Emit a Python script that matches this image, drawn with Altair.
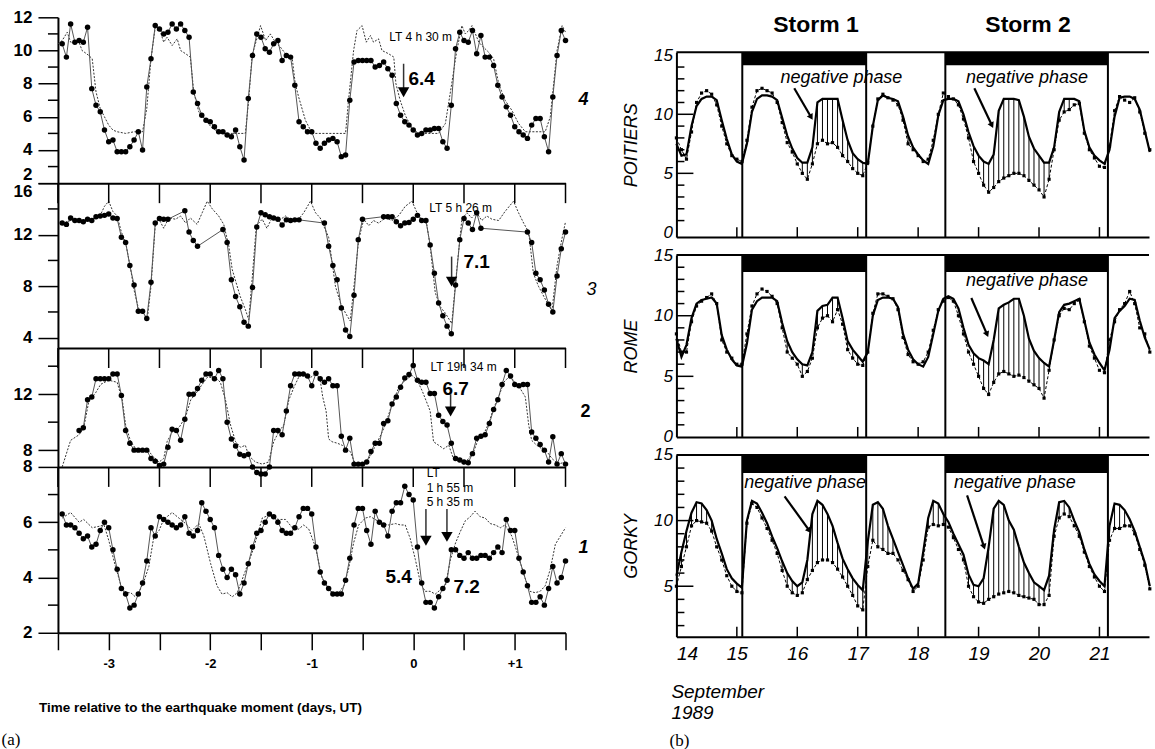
import altair as alt
import pandas as pd

SANS = "'Liberation Sans', Arial, sans-serif"
SERIF = "'Liberation Serif', 'DejaVu Serif', serif"

# ====================== (a) data : hours from start, values ======================
P4_OBS_H = list(range(1, 121))
P4_OBS_V = [10.4, 9.6, 11.6, 10.5, 10.6, 10.5, 11.4, 7.7, 6.7, 6.3,
            5.2, 4.5, 4.6, 3.9, 3.9, 3.9, 4.2, 4.6, 5.1, 4.0,
            7.8, 9.5, 11.5, 11.3, 11.0, 11.1, 11.6, 11.3, 11.6, 11.2,
            10.8, 7.5, 6.8, 6.1, 5.8, 5.7, 5.4, 5.1, 5.1, 4.9,
            4.8, 5.2, 4.2, 3.4, 7.1, 9.7, 11.0, 10.8, 10.1, 9.9,
            10.4, 10.6, 9.4, 9.7, 9.6, 7.9, 5.7, 5.4, 5.1, 5.1,
            4.4, 4.1, 4.4, 4.6, 4.7, 4.5, 3.6, 3.7, 7.0, 9.3,
            9.4, 9.4, 9.4, 9.4, 9.0, 9.1, 9.3, 8.9, 8.5, 6.8,
            6.1, 5.7, 5.5, 5.2, 4.9, 5.0, 5.2, 5.2, 5.3, 5.3,
            4.5, 4.1, 6.7, 10.1, 11.1, 10.6, 10.5, 11.2, 9.8, 10.9,
            9.6, 9.6, 9.1, 7.9, 7.2, 6.6, 6.1, 5.4, 5.1, 4.9,
            4.7, 5.5, 5.9, 5.9, 4.8, 3.9, 7.2, 9.7, 11.2, 10.6]
P4_REF_H = [0, 1, 2.2, 3, 5, 5.7, 7.3, 8.1, 9, 10, 11, 12, 13, 14, 16, 18, 20, 21, 22, 23,
            24, 25, 25.8, 27, 28.2, 29, 30.2, 31.3, 32.1, 33.3, 34.9, 36.5, 38, 39.6, 44.3,
            45.1, 45.9, 47.9, 49.1, 50.2, 51.4, 52.6, 53.8, 55.4, 56.1, 56.9, 58.5, 60.1, 68,
            68.7, 69.9, 70.7, 71.9, 72.9, 73.9, 74.6, 75.8, 76.6, 78.2, 79.4, 79.9, 80.9, 82.1,
            83.7, 85.3, 90, 91.6, 93.1, 94.3, 95.5, 96.3, 97.1, 97.9, 98.7, 99.5, 100.6, 101.8,
            103, 104.2, 105.7, 107.3, 108.9, 110.5, 115.2, 116.4, 117.2, 118, 119.2, 120]
P4_REF_V = [10.4, 10.6, 11.1, 10.5, 10.5, 10.0, 9.7, 9.5, 7.5, 6.5, 6.0, 5.5, 5.2, 5.1, 5.0, 5.1, 5.1, 6.5, 9.5, 11.4,
            11.3, 10.5, 10.8, 10.3, 10.7, 10.0, 9.8, 9.6, 7.5, 6.3, 5.8, 5.3, 5.1, 5.0, 5.0,
            7.0, 9.7, 11.5, 10.6, 11.0, 10.5, 10.2, 9.8, 9.5, 8.0, 7.2, 5.8, 5.0, 5.0,
            7.0, 10.0, 11.2, 11.5, 10.5, 10.9, 10.5, 10.7, 10.0, 9.8, 9.6, 8.0, 7.0, 6.1,
            5.3, 5.0, 5.0, 5.6, 8.0, 10.0, 11.5, 11.0, 11.2, 11.5, 11.0, 10.5, 10.2, 9.9,
            9.5, 8.0, 7.0, 6.4, 5.6, 5.1, 5.1, 6.0, 8.0, 10.0, 11.5, 11.1]

P3_OBS_H = (list(range(1, 27)) + [30, 31, 32, 33] + list(range(39, 58)) + list(range(63, 73))
            + list(range(77, 101)) + list(range(111, 121)))
P3_OBS_V = [12.9, 12.8, 13.3, 13.1, 13.1, 13.0, 13.2, 13.1, 13.4, 13.45, 13.5, 13.6, 13.3, 13.25,
            11.8, 11.4, 9.6, 8.1, 6.05, 6.05, 5.5, 8.3, 12.9, 13.25, 13.2, 13.2,
            13.85, 12.2, 11.55, 11.1,
            12.4, 11.4, 8.5, 7.2, 6.4, 5.2, 4.9, 7.9, 12.6, 13.7, 13.55, 13.4, 13.3, 13.2, 12.75,
            13.15, 13.1, 13.15, 13.15,
            12.9, 11.1, 9.6, 8.5, 6.3, 4.6, 4.1, 7.3, 11.6, 13.2,
            13.4, 13.4, 13.4, 13.0, 12.7, 12.9, 12.95, 13.2, 13.5, 13.1, 13.1, 11.2, 9.0, 6.7,
            5.7, 4.9, 4.3, 8.1, 11.6, 13.25, 12.9, 12.4, 13.7, 12.5,
            12.2, 11.4, 9.0, 8.5, 7.7, 6.6, 6.0, 8.8, 10.9, 12.2]
P3_REF_H = [1, 3, 6, 8, 10, 11, 12, 13, 14, 15, 16, 17.2, 18, 19, 19.9, 21.1,
            22, 23, 23.9, 25, 26.2, 27.8, 29, 30.2, 31.3, 32.9,
            34.1, 35.3, 36.5, 38, 39.2, 40.4, 41.2, 42.1, 43.1, 44.3,
            45.1, 45.9, 46.9, 48.3, 49.4, 50.6, 52.2, 53.8, 55.4, 56.9,
            58.1, 59.7, 60.9, 62, 63.2, 64, 65.6, 66.8, 68, 69.1,
            69.9, 71.1, 72.3, 73.5, 74.6, 75.8, 77.4, 79, 80.6, 82.1,
            83.7, 84.9, 86.1, 87.2, 88, 89.2, 90.4, 91.6, 93.1, 94.3,
            95.5, 96.7, 97.8, 99, 100.2, 101.4, 102.6, 104.2, 105.7, 107.7,
            108.9, 110.1, 111.3, 112.4, 113.6, 115.2, 116.8, 118, 119.1, 120]
P3_REF_V = [12.9, 13.1, 13.0, 13.2, 13.5, 14.2, 14.6, 13.8, 13.45, 12.2, 11.4, 9.3, 7.7, 6.3, 6.05, 5.4,
            8.0, 12.7, 13.2, 12.5, 13.3, 13.2, 13.45, 12.9, 13.3, 12.8,
            13.7, 14.6, 14.0, 13.45, 12.8, 11.1, 9.3, 8.3, 7.2, 6.2,
            5.4, 8.5, 12.7, 13.2, 12.5, 13.3, 13.1, 13.45, 13.1, 13.2,
            13.7, 14.6, 13.7, 13.3, 12.4, 11.8, 8.0, 6.7, 5.9, 5.3,
            7.7, 11.6, 13.2, 12.7, 13.1, 12.9, 13.3, 13.1, 13.5, 14.2,
            14.6, 13.7, 13.1, 12.8, 11.1, 7.5, 6.4, 5.9, 5.1, 9.3,
            13.2, 13.7, 13.3, 13.7, 13.1, 13.45, 13.2, 13.1, 13.8, 14.6,
            13.7, 12.9, 12.2, 9.0, 8.0, 7.0, 6.1, 9.6, 11.6, 13.0]

P2_OBS_H = list(range(5, 121))
P2_OBS_V = [9.4, 9.6, 11.6, 11.8, 13.1, 13.1, 13.1, 13.1, 13.45, 13.45,
            11.9, 9.4, 8.5, 8.0, 8.0, 8.0, 8.0, 7.4, 7.2, 6.9,
            7.0, 8.2, 9.5, 9.4, 8.7, 10.2, 12.0, 12.0, 12.4, 13.0,
            13.45, 13.45, 13.1, 13.7, 13.1, 10.0, 8.8, 8.3, 7.7, 7.6,
            7.7, 6.8, 6.4, 6.3, 6.3, 6.8, 9.4, 9.4, 9.1, 10.8,
            12.6, 13.45, 13.45, 13.45, 13.3, 12.6, 13.5, 13.1, 12.85, 13.1,
            12.6, 12.6, 9.0, 8.0, 8.85, 7.0, 7.0, 7.0, 7.15, 7.9,
            8.5, 8.5, 9.9, 10.1, 11.3, 11.8, 12.5, 13.15, 13.4, 14.05,
            13.0, 12.85, 12.85, 12.05, 12.05, 10.5, 10.05, 9.8, 8.5, 7.4,
            7.3, 7.15, 7.1, 7.75, 8.85, 9.0, 9.1, 9.9, 10.9, 11.6,
            12.7, 13.7, 13.3, 12.7, 12.6, 12.7, 12.7, 9.3, 8.85, 8.4,
            8.0, 7.15, 8.95, 7.0, 7.75, 7.0]
P2_REF_H = [1.0, 3.0, 5.0, 6.1, 7.3, 8.9, 10.1, 12.0, 14.0, 15.2, 16.0, 17.2, 18.4, 19.9, 21.1, 22.3,
            23.9, 25.0, 25.8, 27.0, 28.6, 30.2, 31.4, 32.5, 34.1, 35.3, 37.2, 38.4, 39.6, 40.8,
            42.0, 43.2, 44.3, 45.1, 46.7, 48.3, 49.8, 51.0, 52.2, 53.4, 54.6, 55.8, 56.9, 58.1,
            59.3, 60.9, 62.0, 62.6, 63.4, 64.0, 64.8, 66.0, 67.2, 68.0, 69.1, 70.3, 71.5, 72.7,
            73.9, 75.1, 76.2, 77.4, 79.0, 80.6, 82.1, 83.7, 84.9, 86.1, 88.0, 88.8, 90.0, 91.2,
            92.4, 93.5, 94.7, 95.9, 97.1, 98.3, 99.5, 100.6, 101.8, 103.0, 104.2, 105.4, 106.5,
            107.7, 108.9, 110.5, 111.3, 112.0, 113.2, 114.4, 115.6, 116.8, 118.3, 119.9]
P2_REF_V = [6.8, 8.7, 9.1, 9.6, 11.5, 12.1, 12.7, 13.0, 12.85, 11.6, 9.8, 8.6, 8.1, 7.9, 8.1, 7.6,
            7.15, 7.4, 8.6, 9.3, 9.6, 10.4, 11.6, 12.0, 12.7, 13.2, 13.2, 12.85, 11.6, 9.8,
            8.6, 8.2, 8.35, 7.6, 7.15, 7.0, 7.15, 8.6, 9.3, 9.8, 11.6, 12.5, 13.2, 13.45,
            13.1, 13.45, 13.0, 11.8, 10.8, 8.8, 8.6, 8.5, 8.35, 8.1, 7.9, 7.0, 6.9, 7.0,
            7.6, 8.35, 9.0, 9.8, 11.3, 12.5, 13.0, 13.35, 13.0, 12.25, 10.8, 8.6, 8.35, 8.1,
            8.35, 7.4, 7.3, 7.0, 7.4, 7.9, 8.9, 9.1, 9.9, 11.0, 11.8, 12.85, 13.2,
            13.0, 12.6, 11.8, 9.8, 8.7, 8.35, 8.1, 7.9, 7.4, 7.0, 7.15]

P1_OBS_H = list(range(1, 121))
P1_OBS_V = [6.3, 5.9, 5.9, 5.8, 5.6, 5.4, 5.5, 5.1, 5.2, 5.7,
            6.0, 5.8, 5.0, 4.3, 3.6, 3.4, 2.9, 3.0, 3.4, 3.8,
            4.6, 5.8, 5.5, 6.2, 6.1, 6.0, 5.9, 5.8, 5.9, 6.2,
            5.6, 5.5, 5.7, 6.7, 6.4, 6.1, 5.8, 4.8, 4.3, 4.0,
            4.3, 4.1, 3.4, 3.8, 4.5, 5.1, 5.6, 5.7, 6.0, 6.3,
            6.2, 6.0, 5.7, 5.6, 5.6, 5.8, 6.2, 6.5, 6.5, 6.3,
            5.1, 4.2, 3.8, 3.6, 3.4, 3.4, 3.4, 3.9, 4.7, 5.9,
            6.5, 6.5, 5.7, 5.2, 6.4, 6.0, 5.9, 5.5, 6.4, 6.7,
            6.7, 7.3, 7.0, 6.8, 5.1, 3.8, 3.1, 3.1, 2.9, 3.3,
            3.6, 3.9, 5.0, 5.0, 4.8, 4.7, 4.9, 4.7, 4.7, 4.8,
            4.8, 4.7, 4.9, 5.1, 4.9, 6.1, 5.7, 5.7, 4.7, 4.2,
            3.7, 3.1, 3.1, 3.3, 3.0, 3.6, 4.4, 3.8, 4.0, 4.6]
P1_REF_H = [1, 3, 5, 6.1, 8.1, 9.7, 10.9, 12, 13.6, 15.2, 16.4, 17.2, 18.3, 19.1, 20.3, 21.5,
            22.7, 23.9, 25, 27, 28.6, 30.2, 31.7, 33.3, 34.5, 36.1, 37.6, 38.8, 40, 41.2,
            42.4, 43.5, 44.7, 45.9, 47.1, 48.3, 49.8, 51, 52.2, 53.8, 55.4, 56.9, 58.1, 59.3,
            60.9, 62.4, 64, 65.2, 66.4, 67.6, 68.7, 69.9, 71.1, 72.7, 73.9, 75, 76.6, 78.2,
            79.8, 81, 82.1, 83.3, 84.5, 85.7, 86.8, 88, 89.2, 90.4, 91.6, 92.8, 94, 95.1,
            96.3, 97.5, 98.6, 99.8, 101, 102.2, 103.4, 104.6, 105.7, 107.3, 108.9, 110.5,
            111.6, 112.8, 114, 115.2, 116.4, 117.6, 118.8, 120]
P1_REF_V = [6.15, 6.35, 6.0, 6.1, 5.8, 5.85, 5.9, 5.35, 4.4, 3.55, 3.45, 3.45, 3.3, 3.45, 3.85, 4.4,
            5.5, 5.7, 6.1, 6.35, 6.15, 5.95, 5.7, 5.95, 5.5, 4.5, 3.7, 3.4, 3.45, 3.3,
            3.45, 3.9, 4.4, 4.9, 5.5, 6.15, 6.25, 6.15, 6.1, 6.1, 5.8, 5.75, 5.9, 5.75,
            5.1, 4.0, 3.6, 3.4, 3.45, 3.7, 4.3, 5.25, 5.9, 6.15, 6.2, 6.1, 5.95, 5.9,
            5.95, 5.9, 5.9, 5.4, 4.65, 3.8, 3.5, 3.5, 3.4, 3.55, 3.7, 4.65, 5.25, 5.65,
            6.05, 6.2, 6.4, 6.2, 6.15, 5.95, 5.9, 5.8, 5.9, 5.5, 4.75, 3.95,
            3.5, 3.45, 3.5, 3.7, 4.3, 5.2, 5.5, 5.8]

# ====================== (b) data : 2-hourly from 14 Sept 00 UT ======================
POITIERS_REF = ([7.5, 6.5, 6.6, 9.0, 10.7, 11.3, 11.5, 11.5, 11.2, 9.5, 7.9, 6.6]
                + [6.0, 5.8, 7.5, 10.2, 11.3, 11.6, 11.6, 11.5, 11.2, 9.7, 8.2, 7.1]
                + [6.3, 5.9, 5.9, 7.2, 11.0, 11.3, 11.3, 11.3, 11.3, 9.5, 7.8, 6.7]
                + [6.2, 5.9, 5.8, 9.0, 11.2, 11.6, 11.4, 11.3, 11.1, 9.8, 8.2, 7.2]
                + [6.6, 6.1, 5.8, 7.3, 9.9, 11.2, 11.3, 11.3, 11.1, 10.0, 8.5, 7.3]
                + [6.5, 6.0, 5.8, 6.6, 10.3, 11.3, 11.3, 11.3, 11.2, 9.8, 8.1, 7.1]
                + [6.5, 5.9, 5.9, 7.2, 10.2, 11.3, 11.3, 11.3, 11.1, 8.6, 7.2, 6.5]
                + [6.1, 5.8, 7.0, 9.8, 11.4, 11.5, 11.5, 11.3, 10.4, 8.6, 6.8])
POITIERS_OBS = ([8.0, 7.0, 6.2, 8.5, 11.0, 11.8, 12.0, 11.7, 10.8, 9.0, 7.5, 6.5]
                + [6.2, 6.0, 7.8, 10.6, 12.0, 12.2, 12.0, 11.8, 11.0, 9.3, 7.6, 6.8]
                + [5.8, 5.0, 4.5, 5.8, 7.5, 7.8, 7.5, 7.6, 7.2, 6.5, 6.0, 5.4]
                + [5.0, 4.8, 5.9, 9.0, 11.3, 11.7, 11.4, 11.2, 10.8, 9.5, 7.5, 7.0]
                + [6.5, 6.0, 6.2, 7.8, 10.0, 11.8, 11.5, 11.3, 10.8, 9.6, 8.0, 6.0]
                + [5.0, 4.0, 3.4, 3.8, 4.3, 4.6, 4.8, 5.0, 5.0, 4.8, 4.4, 4.0]
                + [3.6, 3.0, 4.5, 7.0, 9.5, 10.2, 10.4, 10.8, 10.9, 8.4, 7.0, 6.3]
                + [5.6, 5.5, 7.3, 10.3, 11.5, 11.2, 11.0, 11.4, 10.2, 8.4, 7.0])
ROME_REF = ([8.1, 6.6, 7.6, 9.8, 11.0, 11.3, 11.4, 11.5, 11.0, 8.4, 7.2, 6.4]
            + [5.9, 5.8, 7.7, 10.5, 11.2, 11.5, 11.5, 11.5, 11.2, 9.4, 7.9, 7.0]
            + [6.4, 6.0, 5.9, 7.0, 10.4, 10.8, 10.9, 11.5, 11.5, 9.8, 7.9, 7.2]
            + [6.7, 6.2, 7.0, 10.0, 11.3, 11.5, 11.5, 11.4, 10.7, 8.5, 7.2, 6.4]
            + [6.0, 5.8, 6.6, 8.5, 10.4, 11.4, 11.6, 11.4, 10.6, 9.0, 7.6, 6.9]
            + [6.5, 6.3, 6.0, 8.0, 10.6, 10.9, 11.1, 11.4, 11.4, 10.0, 8.1, 7.1]
            + [6.5, 6.1, 5.8, 8.0, 10.3, 10.9, 11.0, 11.2, 11.4, 9.6, 7.8, 6.8]
            + [6.1, 5.5, 7.2, 9.8, 10.4, 10.8, 11.4, 11.3, 9.6, 8.2, 7.2])
ROME_OBS = ([8.5, 7.0, 7.0, 9.5, 10.8, 11.2, 11.5, 11.8, 11.0, 8.0, 7.0, 6.5]
            + [6.0, 6.0, 8.5, 10.8, 11.8, 12.2, 12.0, 11.6, 11.0, 9.0, 7.0, 6.5]
            + [6.0, 5.0, 5.4, 6.5, 9.0, 9.8, 10.0, 9.5, 10.5, 9.3, 7.2, 6.5]
            + [6.0, 5.9, 7.0, 10.2, 11.8, 11.8, 11.6, 11.4, 10.5, 8.2, 6.8, 6.2]
            + [6.0, 6.2, 7.0, 8.8, 10.5, 11.2, 11.5, 11.2, 10.0, 8.5, 7.0, 6.0]
            + [5.0, 4.0, 3.5, 4.5, 5.2, 5.4, 5.2, 5.0, 5.1, 4.9, 4.6, 4.3]
            + [4.0, 3.2, 5.5, 8.0, 10.0, 10.6, 10.5, 11.0, 11.3, 9.5, 7.5, 6.5]
            + [5.5, 5.3, 8.0, 9.5, 10.5, 11.0, 12.0, 11.0, 9.0, 8.5, 7.0])
GORKY_REF = ([5.8, 7.6, 9.2, 10.6, 11.4, 11.3, 10.8, 10.0, 8.6, 7.5, 6.3, 5.6]
             + [5.2, 4.9, 10.0, 11.5, 11.3, 10.6, 9.8, 8.8, 7.9, 6.9, 6.0, 5.4]
             + [5.0, 5.3, 7.0, 10.5, 11.5, 11.2, 10.5, 9.6, 8.3, 7.1, 6.3, 5.6]
             + [5.1, 4.7, 8.4, 11.2, 11.4, 10.9, 9.6, 8.6, 7.6, 6.6, 5.6, 4.8]
             + [5.2, 7.6, 10.2, 11.5, 11.3, 10.5, 9.9, 9.0, 8.2, 7.4, 5.9, 5.1]
             + [5.0, 5.6, 8.0, 10.9, 11.5, 11.2, 10.0, 9.3, 8.0, 6.8, 6.0, 5.3]
             + [5.0, 4.7, 5.8, 9.3, 11.4, 11.5, 11.0, 10.0, 9.1, 7.8, 6.7, 5.9]
             + [5.4, 5.0, 9.6, 11.3, 11.2, 10.8, 10.1, 9.2, 8.0, 6.8, 5.0])
GORKY_OBS = ([5.0, 6.5, 8.0, 9.6, 10.0, 9.9, 9.8, 9.2, 8.0, 7.0, 5.8, 5.0]
             + [4.6, 4.5, 9.8, 11.3, 11.0, 10.2, 9.4, 8.5, 7.5, 6.2, 5.0, 4.5]
             + [4.3, 4.5, 5.5, 6.2, 6.8, 7.0, 7.0, 6.8, 6.3, 5.7, 5.0, 4.3]
             + [3.5, 3.2, 6.5, 8.5, 8.0, 7.8, 7.5, 7.5, 7.0, 6.2, 5.5, 4.6]
             + [5.0, 7.0, 9.5, 9.7, 9.6, 9.7, 9.5, 8.7, 7.8, 7.0, 5.0, 4.2]
             + [3.8, 3.7, 4.0, 4.2, 4.4, 4.5, 4.6, 4.5, 4.3, 4.2, 4.1, 4.0]
             + [3.6, 3.6, 4.3, 8.8, 10.2, 10.5, 10.3, 9.6, 8.8, 7.6, 6.5, 5.7]
             + [5.0, 4.6, 8.5, 9.4, 9.4, 9.6, 9.6, 9.0, 7.8, 6.6, 4.8])

STORM_START = [15.09, 18.45]
STORM_END = [17.14, 21.14]
STORM_LABELS = ["Storm 1", "Storm 2"]
STORM_LABEL_T = [16.31, 19.82]
B_DAYS = [14, 15, 16, 17, 18, 19, 20, 21]

# ====================== (a) panels ======================
XA_SCALE = alt.Scale(domain=[-3.5, 1.5], nice=False, zero=False)
A_TICKS = [-3.5 + 0.5 * i for i in range(11)]
WA = 508


def hours_to_days(hours):
    return [-3.5 + h / 24.0 for h in hours]


def a_panel(obs_h, obs_v, ref_h, ref_v, ydom, height, major, minor, top_ticks, bottom,
            baseline, texts, arrows):
    assert len(obs_h) == len(obs_v) and len(ref_h) == len(ref_v)
    obs = pd.DataFrame({"d": hours_to_days(obs_h), "v": obs_v})
    ref = pd.DataFrame({"d": hours_to_days(ref_h), "v": ref_v})
    if bottom:
        xaxis = alt.Axis(values=A_TICKS, tickSize=17, tickWidth=1.5, tickColor="black",
                         domainColor="black", domainWidth=2,
                         labelExpr="datum.value == 1 ? '+1' : datum.value == 0 ? '0' : "
                                   "(datum.value % 1 == 0 ? '-' + abs(datum.value) : '')",
                         labelFont=SANS, labelFontSize=13, labelFontWeight="bold",
                         labelColor="black", labelPadding=8, title=None, grid=False)
    else:
        xaxis = alt.Axis(ticks=False, labels=False, title=None, grid=False,
                         domainColor="black", domainWidth=2)
    yaxis = alt.Axis(values=major, tickSize=20, tickWidth=1.5, tickColor="black",
                     domainColor="black", domainWidth=2, labelFont=SANS, labelFontSize=17,
                     labelFontWeight="bold", labelColor="black", labelPadding=6, title=None,
                     grid=False, labelBaseline=baseline)
    ysc = alt.Scale(domain=ydom, nice=False, zero=False)

    def X(f="d"):
        return alt.X(f + ":Q", scale=XA_SCALE, axis=xaxis)

    def Y(f="v"):
        return alt.Y(f + ":Q", scale=ysc, axis=yaxis)

    layers = [
        alt.Chart(ref).mark_line(color="#333333", strokeWidth=1, strokeDash=[2, 1.5]).encode(x=X(), y=Y()),
        alt.Chart(obs).mark_line(color="#555555", strokeWidth=1).encode(x=X(), y=Y()),
        alt.Chart(obs).mark_circle(color="black", size=30, opacity=1).encode(x=X(), y=Y()),
        alt.Chart(pd.DataFrame({"v": minor})).mark_rule(color="black", strokeWidth=1.5).encode(
            y=Y(), x=alt.value(-10), x2=alt.value(0)),
    ]
    if top_ticks:
        layers.append(alt.Chart(pd.DataFrame({"d": A_TICKS})).mark_rule(color="black", strokeWidth=1.5).encode(
            x=X(), y=alt.value(0), y2=alt.value(20)))
    for item in texts:
        t_d, t_v, txt, size, weight, style, align = item[:7]
        font = item[7] if len(item) > 7 else SANS
        layers.append(alt.Chart(pd.DataFrame({"d": [t_d], "v": [t_v], "s": [txt]})).mark_text(
            font=font, fontSize=size, fontWeight=weight, fontStyle=style, align=align,
            baseline="middle", color="black").encode(x=X(), y=Y(), text="s:N"))
    if arrows:
        ad = pd.DataFrame({"d": [a[0] for a in arrows], "v": [a[1] for a in arrows],
                           "v2": [a[2] for a in arrows], "vh": [a[3] for a in arrows]})
        layers.append(alt.Chart(ad).mark_rule(color="#333333", strokeWidth=1.5).encode(
            x=X(), y=Y(), y2="v2:Q"))
        layers.append(alt.Chart(ad).mark_point(shape="triangle-down", filled=True, size=130,
                                               color="black", opacity=1).encode(x=X(), y=Y("vh")))
    return alt.layer(*layers).properties(width=WA, height=height)


P4 = a_panel(P4_OBS_H, P4_OBS_V, P4_REF_H, P4_REF_V, [2, 12], 166,
             [2, 4, 6, 8, 10, 12], [3, 5, 7, 9, 11], False, False,
             {"condition": {"test": "datum.value == 2", "value": "bottom"}, "value": "middle"},
             [(0.073, 10.8, "LT 4 h 30 m", 12, "normal", "normal", "center"),
              (0.083, 8.3, "6.4", 19, "bold", "normal", "center"),
              (1.677, 7.0, "4", 18, "bold", "italic", "center")],
             [(-0.095, 9.2, 7.5, 7.48)])
P3 = a_panel(P3_OBS_H, P3_OBS_V, P3_REF_H, P3_REF_V, [3.2, 16], 165,
             [4, 8, 12, 16], [6, 10, 14], True, False,
             {"condition": {"test": "datum.value == 16", "value": "top"}, "value": "middle"},
             [(0.467, 14.1, "LT 5 h 26 m", 12, "normal", "normal", "center"),
              (0.624, 9.9, "7.1", 19, "bold", "normal", "center"),
              (1.756, 7.74, "3", 18, "normal", "italic", "center")],
             [(0.378, 10.3, 8.4, 8.36)])
P2 = a_panel(P2_OBS_H, P2_OBS_V, P2_REF_H, P2_REF_V, [6.8, 15.3], 119,
             [8, 12], [10, 14], True, False, "middle",
             [(0.496, 13.96, "LT 19h 34 m", 12, "normal", "normal", "center"),
              (0.417, 12.36, "6.7", 19, "bold", "normal", "center"),
              (1.697, 10.76, "2", 18, "bold", "normal", "center")],
             [(0.368, 12.0, 10.8, 10.76)])
P1 = a_panel(P1_OBS_H, P1_OBS_V, P1_REF_H, P1_REF_V, [2, 8], 166,
             [2, 4, 6, 8], [3, 5, 7], True, True, "middle",
             [(0.132, 7.78, "LT", 12, "normal", "normal", "left"),
              (0.132, 7.24, "1 h 55 m", 12, "normal", "normal", "left"),
              (0.132, 6.74, "5 h 35 m", 12, "normal", "normal", "left"),
              (-0.144, 4.02, "5.4", 19, "bold", "normal", "center"),
              (0.526, 3.66, "7.2", 19, "bold", "normal", "center"),
              (1.677, 5.07, "1", 18, "bold", "italic", "center"),
              (-3.687, -0.71, "Time relative to the earthquake moment (days, UT)", 13.5, "bold", "normal", "left"),
              (-3.963, -1.87, "(a)", 17, "normal", "normal", "center", SERIF)],
             [(0.125, 6.48, 5.4, 5.33), (0.332, 6.48, 5.55, 5.47)])

left = alt.vconcat(P4, P3, P2, P1, spacing=0, bounds="flush")

# ====================== (b) panels ======================
XB_SCALE = alt.Scale(domain=[14, 21.82], nice=False, zero=False)
WB = 473


def b_panel(name, ref, obs, ydom, height, ylabels, minor, bar_h, show_x_labels,
            neg_texts, neg_arrows, extra_texts):
    assert len(ref) == len(obs)
    t = [14 + i / 12.0 for i in range(len(ref))]
    df = pd.DataFrame({"t": t, "ref": ref, "obs": obs})
    hatch = df[(df["ref"] - df["obs"]) > 0.6]
    xaxis = alt.Axis(values=B_DAYS, ticks=False, tickSize=0, labels=show_x_labels,
                     domainColor="black", domainWidth=2, title=None, grid=False,
                     labelFont=SANS, labelFontStyle="italic", labelFontSize=19,
                     labelColor="black", labelPadding=8)
    yaxis = alt.Axis(values=ylabels, ticks=False, tickSize=0, domainColor="black", domainWidth=2,
                     grid=False, labelFont=SANS, labelFontStyle="italic", labelFontSize=17,
                     labelColor="black", labelPadding=4, title=name, titleFont=SANS,
                     titleFontStyle="italic", titleFontWeight="normal", titleFontSize=18,
                     titleColor="black", titlePadding=13)
    ysc = alt.Scale(domain=ydom, nice=False, zero=False)

    def X(f="t"):
        return alt.X(f + ":Q", scale=XB_SCALE, axis=xaxis)

    def Y(f):
        return alt.Y(f + ":Q", scale=ysc, axis=yaxis)

    one = pd.DataFrame({"t": [14.0], "t2": [21.82]})
    layers = [
        alt.Chart(hatch).mark_rule(color="black", strokeWidth=1).encode(x=X(), y=Y("obs"), y2="ref:Q"),
        alt.Chart(df).mark_line(color="black", strokeWidth=1, strokeDash=[3, 2]).encode(x=X(), y=Y("obs")),
        alt.Chart(df).mark_square(color="black", size=10, opacity=1).encode(x=X(), y=Y("obs")),
        alt.Chart(df).mark_line(color="black", strokeWidth=2.2).encode(x=X(), y=Y("ref")),
        alt.Chart(pd.DataFrame({"t": STORM_START + STORM_END})).mark_rule(color="black", strokeWidth=2).encode(
            x=X(), y=alt.value(0), y2=alt.value(height)),
        alt.Chart(pd.DataFrame({"t": STORM_START, "t2": STORM_END})).mark_rect(color="black").encode(
            x=X(), x2="t2:Q", y=alt.value(0), y2=alt.value(bar_h)),
        alt.Chart(one).mark_rule(color="black", strokeWidth=2).encode(x=X(), x2="t2:Q", y=alt.value(0)),
        alt.Chart(pd.DataFrame({"v": [m for m in minor if m % 5 != 0]})).mark_rule(color="black", strokeWidth=1.5).encode(
            y=Y("v"), x=alt.value(0), x2=alt.value(8)),
        alt.Chart(pd.DataFrame({"v": [m for m in minor if m % 5 == 0]})).mark_rule(color="black", strokeWidth=1.5).encode(
            y=Y("v"), x=alt.value(0), x2=alt.value(17)),
        alt.Chart(pd.DataFrame({"t": B_DAYS[1:]})).mark_rule(color="black", strokeWidth=1.5).encode(
            x=X(), y=alt.value(height - 10), y2=alt.value(height)),
    ]
    if neg_texts:
        nt = pd.DataFrame({"t": [a[0] for a in neg_texts], "v": [a[1] for a in neg_texts],
                           "s": ["negative phase"] * len(neg_texts)})
        layers.append(alt.Chart(nt).mark_text(font=SANS, fontStyle="italic", fontSize=18,
                                              color="black").encode(x=X(), y=Y("v"), text="s:N"))
    if neg_arrows:
        na = pd.DataFrame({"t": [a[0] for a in neg_arrows], "v": [a[1] for a in neg_arrows],
                           "t2": [a[2] for a in neg_arrows], "v2": [a[3] for a in neg_arrows],
                           "ang": [a[4] for a in neg_arrows]})
        layers.append(alt.Chart(na).mark_rule(color="black", strokeWidth=2.2).encode(
            x=X(), y=Y("v"), x2="t2:Q", y2="v2:Q"))
        layers.append(alt.Chart(na).mark_point(shape="triangle-down", filled=True, size=45,
                                               color="black", opacity=1).encode(
            x=X("t2"), y=Y("v2"), angle=alt.Angle("ang:Q", scale=None)))
    for (tt, tv, s, size, align, font) in extra_texts:
        layers.append(alt.Chart(pd.DataFrame({"t": [tt], "v": [tv], "s": [s]})).mark_text(
            font=font, fontStyle="italic" if font != SERIF else "normal", fontSize=size,
            align=align, color="black").encode(x=X(), y=Y("v"), text="s:N"))
    return alt.layer(*layers).properties(width=WB, height=height)


POI = b_panel("POITIERS", POITIERS_REF, POITIERS_OBS, [-0.4, 15.25], 185, [0, 5, 10, 15],
              list(range(1, 15)), 13, False,
              [(16.73, 13.05), (19.80, 13.05)],
              [(15.95, 12.2, 16.23, 9.75, 330), (18.93, 12.2, 19.22, 9.07, 334)], [])
ROME = b_panel("ROME", ROME_REF, ROME_OBS, [0, 15], 182, [0, 5, 10, 15],
               list(range(1, 15)), 17, False,
               [(19.80, 12.85)],
               [(18.88, 11.46, 19.14, 8.46, 337)], [])
GORKY = b_panel("GORKY", GORKY_REF, GORKY_OBS, [1.15, 15], 182, [5, 10, 15],
                list(range(2, 15)), 18, True,
                [(16.13, 12.85), (19.60, 12.85)],
                [(15.79, 11.85, 16.20, 9.23, 324), (18.81, 11.92, 19.09, 8.0, 342)],
                [(13.917, -3.08, "September", 19, "left", SANS),
                 (13.917, -4.62, "1989", 19, "left", SANS),
                 (14.05, -6.77, "(b)", 17, "center", SERIF)])

spacer = alt.Chart(pd.DataFrame({"t": STORM_LABEL_T, "s": STORM_LABELS})).mark_text(
    font=SANS, fontWeight="bold", fontSize=23, color="black").encode(
    x=alt.X("t:Q", scale=XB_SCALE, axis=None), y=alt.value(8), text="s:N").properties(width=WB, height=17)

right = alt.vconcat(spacer, alt.vconcat(POI, ROME, GORKY, spacing=18, bounds="flush"),
                    spacing=18, bounds="flush")

chart = alt.hconcat(left, right, spacing=25).properties(
    padding={"left": 1, "top": 8, "right": 0, "bottom": 0}, background="white"
).configure_view(stroke=None)

chart.save("out.html", embed_options={"renderer": "svg", "actions": False})
